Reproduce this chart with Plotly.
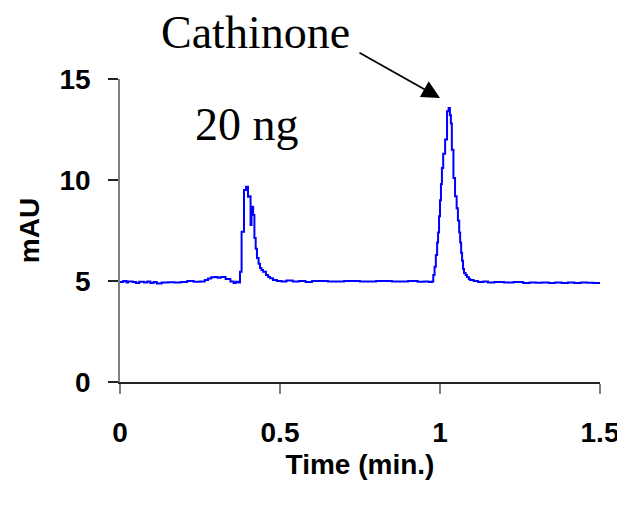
import plotly.graph_objects as go

time_min = [0.000, 0.010, 0.020, 0.025, 0.040, 0.050, 0.060, 0.075, 0.085, 0.095, 0.105, 0.115,
            0.130, 0.150, 0.170, 0.190, 0.210, 0.230, 0.250, 0.265, 0.275, 0.285, 0.295, 0.305,
            0.315, 0.330, 0.345, 0.355, 0.362, 0.370, 0.375, 0.380, 0.3875, 0.394, 0.400, 0.404,
            0.408, 0.411, 0.416, 0.420, 0.424, 0.428, 0.433, 0.4375, 0.442, 0.447, 0.456, 0.463,
            0.469, 0.478, 0.490, 0.505, 0.520, 0.540, 0.560, 0.580, 0.600, 0.650, 0.700, 0.750,
            0.800, 0.850, 0.900, 0.930, 0.950, 0.965, 0.975, 0.979, 0.983, 0.987, 0.991, 0.994,
            0.997, 1.000, 1.003, 1.006, 1.010, 1.016, 1.022, 1.027, 1.031, 1.034, 1.037, 1.042,
            1.047, 1.052, 1.056, 1.060, 1.063, 1.066, 1.069, 1.072, 1.075, 1.080, 1.084, 1.090,
            1.094, 1.105, 1.119, 1.135, 1.150, 1.170, 1.200, 1.230, 1.260, 1.280, 1.300, 1.320,
            1.340, 1.360, 1.380, 1.400, 1.420, 1.440, 1.460, 1.480, 1.500]
mau = [4.95, 5.00, 4.93, 4.97, 4.95, 4.90, 4.96, 4.92, 4.97, 4.90, 4.95, 4.88,
       4.93, 4.94, 4.93, 4.95, 5.00, 4.96, 4.98, 5.05, 5.12, 5.18, 5.20, 5.16,
       5.20, 5.10, 4.98, 4.90, 4.96, 4.92, 5.46, 7.44, 9.50, 9.67, 9.17, 9.20,
       7.77, 8.68, 8.27, 7.13, 6.60, 6.14, 5.85, 5.64, 5.55, 5.46, 5.30, 5.20,
       5.13, 5.05, 5.00, 4.97, 5.02, 4.98, 5.00, 4.95, 5.00, 4.98, 5.00, 4.97,
       5.00, 4.98, 5.00, 4.96, 4.97, 4.95, 4.97, 5.30, 5.70, 6.29, 6.90, 7.40,
       8.20, 9.00, 9.80, 10.60, 11.30, 12.00, 13.40, 13.56, 13.20, 12.80, 11.50, 10.10,
       9.20, 8.60, 8.00, 7.40, 6.90, 6.40, 6.00, 5.60, 5.40, 5.30, 5.20, 5.10,
       5.05, 5.00, 4.95, 4.97, 4.93, 4.95, 4.92, 4.95, 4.90, 4.93, 4.91, 4.93,
       4.90, 4.93, 4.90, 4.92, 4.90, 4.92, 4.91, 4.90, 4.92]

x_ticks = [0, 0.5, 1, 1.5]
x_tick_labels = ["0", "0.5", "1", "1.5"]
y_ticks = [0, 5, 10, 15]
y_tick_labels = ["0", "5", "10", "15"]

SANS = "Arial, Liberation Sans, sans-serif"
SERIF = "Times New Roman, Liberation Serif, serif"

# page has an 8px body margin; figure coordinates are page pixels minus 8
OFF = 8
W, H = 625 - OFF, 509 - OFF
L, T = 120 - OFF, 79 - OFF
R = W - (600 - OFF)
B = H - (382 - OFF)
PW, PH = W - L - R, H - T - B

def px_x(px):
    return (px - OFF - L) / PW

def px_y(py):
    return (H - B - (py - OFF)) / PH

fig = go.Figure()
fig.add_trace(go.Scatter(x=time_min, y=mau, mode="lines",
                         line=dict(color="#0000FF", width=2, shape="hv"),
                         showlegend=False, hoverinfo="skip"))

fig.update_layout(
    width=W, height=H,
    margin=dict(l=L, r=R, t=T, b=B, autoexpand=False),
    paper_bgcolor="white", plot_bgcolor="white",
    showlegend=False,
)
fig.update_xaxes(
    range=[0, 1.5], tickvals=x_ticks, ticktext=x_tick_labels,
    showgrid=False, zeroline=False, automargin=False,
    showline=True, linecolor="#222222", linewidth=1.5,
    ticks="outside", ticklen=10, tickwidth=1.5, tickcolor="#808080",
    ticklabelstandoff=15,
    tickfont=dict(family=SANS, size=28, color="black", weight="bold"),
    title=dict(text="Time (min.)", font=dict(family=SANS, size=28, color="black", weight="bold"), standoff=7),
)
fig.update_yaxes(
    range=[0, 15], tickvals=y_ticks, ticktext=y_tick_labels,
    showgrid=False, zeroline=False, automargin=False,
    showline=True, linecolor="#808080", linewidth=1.5,
    ticks="outside", ticklen=10, tickwidth=1.5, tickcolor="#222222",
    ticklabelstandoff=12,
    tickfont=dict(family=SANS, size=28, color="black", weight="bold"),
    title=dict(text="mAU", font=dict(family=SANS, size=28, color="black", weight="bold"), standoff=12),
)

fig.add_annotation(text="Cathinone", x=px_x(255), y=px_y(33), xref="paper", yref="paper",
                   showarrow=False, xanchor="center", yanchor="middle",
                   font=dict(family=SERIF, size=46, color="black"))
fig.add_annotation(text="20 ng", x=px_x(247), y=px_y(124), xref="paper", yref="paper",
                   showarrow=False, xanchor="center", yanchor="middle",
                   font=dict(family=SERIF, size=46, color="black"))
# arrow pointing to the cathinone peak
fig.add_annotation(text="", x=1.0, y=14.06, xref="x", yref="y",
                   showarrow=True, ax=-82, ay=-46, axref="pixel", ayref="pixel",
                   arrowhead=2, arrowsize=2.0, arrowwidth=1.8, arrowcolor="black")

fig.write_html("out.html")
